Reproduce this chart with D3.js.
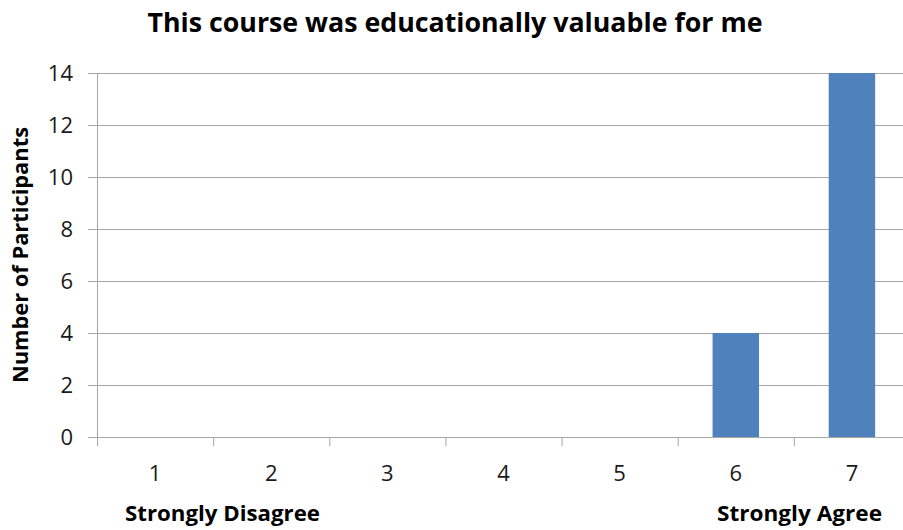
<!DOCTYPE html>
<html><head><meta charset="utf-8">
<script src="https://cdn.jsdelivr.net/npm/d3@7"></script>
<style>body{margin:0;background:#fff;} svg{display:block;font-family:"Open Sans","Noto Sans",sans-serif;}</style>
</head><body>
<svg id="c" width="903" height="530"></svg>
<script>
const categories = ["1","2","3","4","5","6","7"];
const values = [0,0,0,0,0,4,14];
const yTicks = [0,2,4,6,8,10,12,14];
const title = "This course was educationally valuable for me";
const yTitle = "Number of Participants";
const leftNote = "Strongly Disagree";
const rightNote = "Strongly Agree";

const svg = d3.select("#c");
const xb = d3.scaleBand().domain(categories).range([97, 910]);
const y = d3.scaleLinear().domain([0,14]).range([437, 73]);

// gridlines
svg.append("g").selectAll("line").data(yTicks).join("line")
  .attr("x1", 88).attr("x2", 910)
  .attr("y1", d => y(d)+0.5).attr("y2", d => y(d)+0.5)
  .attr("stroke", "#a6a6a6").attr("stroke-width", 1);

// y axis line
svg.append("line").attr("x1", 97.5).attr("x2", 97.5).attr("y1", 73).attr("y2", 437)
  .attr("stroke", "#a6a6a6");

// x ticks
svg.append("g").selectAll("line").data(categories.concat(["end"])).join("line")
  .attr("x1", (d,i) => 97 + i*xb.bandwidth() + 0.5)
  .attr("x2", (d,i) => 97 + i*xb.bandwidth() + 0.5)
  .attr("y1", 437).attr("y2", 446).attr("stroke", "#a6a6a6");

// bars
svg.append("g").selectAll("rect").data(values).join("rect")
  .attr("x", (d,i) => xb(categories[i]) + xb.bandwidth()*0.3)
  .attr("width", xb.bandwidth()*0.4)
  .attr("y", d => y(d)).attr("height", d => y(0) - y(d))
  .attr("fill", "#4f81bd");

// y tick labels
svg.append("g").selectAll("text").data(yTicks).join("text")
  .attr("x", 73).attr("y", d => y(d)).attr("dy", "0.36em")
  .attr("text-anchor", "end").attr("font-size", 22).attr("fill", "#1a1a1a")
  .text(d => d);

// x tick labels
svg.append("g").selectAll("text").data(categories).join("text")
  .attr("x", d => xb(d) + xb.bandwidth()/2).attr("y", 481)
  .attr("text-anchor", "middle").attr("font-size", 22).attr("fill", "#1a1a1a")
  .text(d => d);

// title
svg.append("text").attr("x", 455).attr("y", 32).attr("text-anchor", "middle")
  .attr("font-size", 27).attr("font-weight", "bold").attr("fill", "#000")
  .attr("textLength", 615).attr("lengthAdjust", "spacingAndGlyphs")
  .text(title);

// y title
svg.append("text").attr("transform", "translate(28,255) rotate(-90)")
  .attr("text-anchor", "middle").attr("font-size", 21).attr("font-weight", "bold")
  .attr("textLength", 256).attr("lengthAdjust", "spacingAndGlyphs")
  .text(yTitle);

// notes
svg.append("text").attr("x", 125).attr("y", 521).attr("font-size", 21).attr("font-weight", "bold")
  .attr("textLength", 195).attr("lengthAdjust", "spacingAndGlyphs").text(leftNote);
svg.append("text").attr("x", 717).attr("y", 521).attr("font-size", 21).attr("font-weight", "bold")
  .attr("textLength", 165).attr("lengthAdjust", "spacingAndGlyphs").text(rightNote);
</script>
</body></html>
